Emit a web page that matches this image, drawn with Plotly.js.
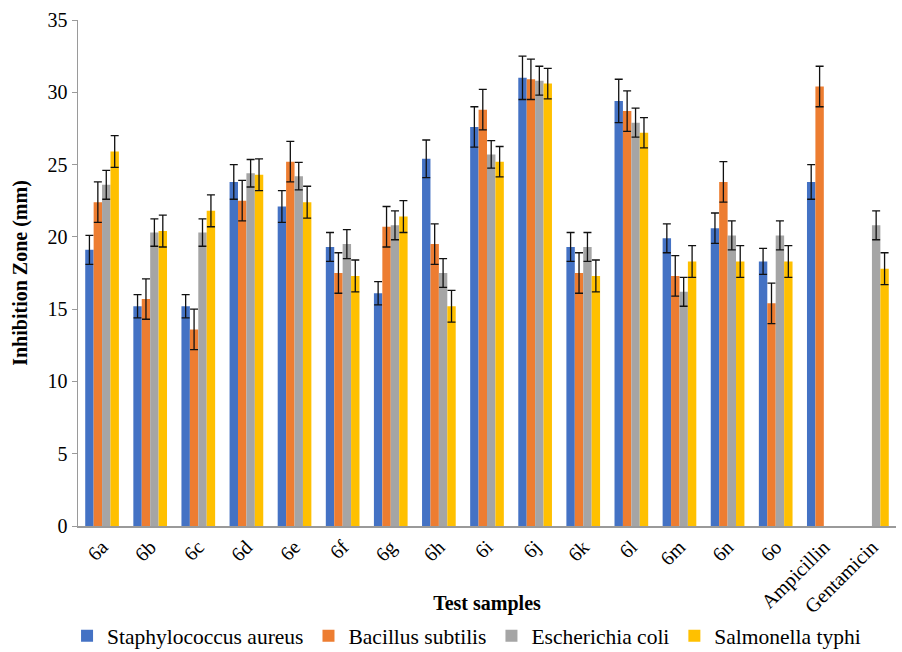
<!DOCTYPE html>
<html>
<head>
<meta charset="utf-8">
<script src="https://cdn.plot.ly/plotly-3.0.1.min.js"></script>
<style>html,body{margin:0;padding:0;background:#fff;}#chart{width:902px;height:652px;}</style>
</head>
<body>
<div id="chart"></div>
<script>
const categories = ["6a","6b","6c","6d","6e","6f","6g","6h","6i","6j","6k","6l","6m","6n","6o","Ampicillin","Gentamicin"];
const seriesNames = ["Staphylococcus aureus","Bacillus subtilis","Escherichia coli","Salmonella typhi"];
const staphValues = [19.1,15.2,15.2,23.8,22.1,19.3,16.1,25.4,27.6,31.0,19.3,29.4,19.9,20.6,18.3,23.8,null];
const staphErrors = [1.0,0.8,0.8,1.2,1.1,1.0,0.8,1.3,1.4,1.5,1.0,1.5,1.0,1.05,0.9,1.2,null];
const bacillusValues = [22.4,15.7,13.6,22.5,25.2,17.5,20.7,19.5,28.8,30.9,17.5,28.7,17.3,23.8,15.4,30.4,null];
const bacillusErrors = [1.4,1.4,1.4,1.4,1.4,1.4,1.4,1.4,1.4,1.4,1.4,1.4,1.4,1.4,1.4,1.4,null];
const ecoliValues = [23.6,20.3,20.3,24.4,24.2,19.5,20.8,17.5,25.7,30.8,19.3,27.9,16.2,20.1,20.1,null,20.8];
const ecoliErrors = [1.0,0.95,0.95,0.95,0.95,1.0,1.0,1.0,0.95,1.0,1.0,1.0,1.0,1.0,1.0,null,1.0];
const salmonellaValues = [25.9,20.4,21.8,24.3,22.4,17.3,21.4,15.2,25.2,30.6,17.3,27.2,18.3,18.3,18.3,null,17.8];
const salmonellaErrors = [1.1,1.1,1.1,1.1,1.1,1.1,1.1,1.1,1.05,1.05,1.1,1.05,1.1,1.1,1.1,null,1.1];
const colors = ["#4472C4","#ED7D31","#A5A5A5","#FFC000"];

const vals = [staphValues, bacillusValues, ecoliValues, salmonellaValues];
const errs = [staphErrors, bacillusErrors, ecoliErrors, salmonellaErrors];
const traces = vals.map((v,i)=>({
  type:"bar", name:seriesNames[i], x:categories, y:v,
  marker:{color:colors[i]},
  error_y:{type:"data", array:errs[i], visible:true, color:"#111", thickness:1.3, width:4}
}));

const font = "Times New Roman, Liberation Serif, DejaVu Serif, serif";
const layout = {
  width:902, height:652,
  margin:{l:78, r:6, t:20, b:126},
  paper_bgcolor:"#fff", plot_bgcolor:"#fff",
  barmode:"group", bargap:0.3, bargroupgap:0,
  font:{family:font, size:20, color:"#000"},
  xaxis:{
    automargin:false,
    tickangle:-45, tickfont:{family:font, size:20, color:"#000"},
    showline:true, linecolor:"#9a9a9a", linewidth:1.5, ticks:"",
    showgrid:false,
    title:{text:"<b>Test samples</b>", font:{family:font, size:20, color:"#000"}, standoff:0}
  },
  yaxis:{
    automargin:false,
    range:[0,35], dtick:5, tickfont:{family:font, size:20, color:"#000"},
    showline:true, linecolor:"#9a9a9a", linewidth:1.5, ticks:"outside", ticklen:5, tickcolor:"#9a9a9a",
    showgrid:false, zeroline:false,
    title:{text:"<b>Inhibition Zone (mm)</b>", font:{family:font, size:20, color:"#000"}, standoff:14}
  },
  legend:{orientation:"h", x:0.475, xanchor:"center", yref:"container", y:0.025, yanchor:"middle",
    font:{family:font, size:21.5, color:"#000"}, itemwidth:30, tracegroupgap:0},
  showlegend:true
};
Plotly.newPlot("chart", traces, layout, {displayModeBar:false, staticPlot:true});
</script>
</body>
</html>
